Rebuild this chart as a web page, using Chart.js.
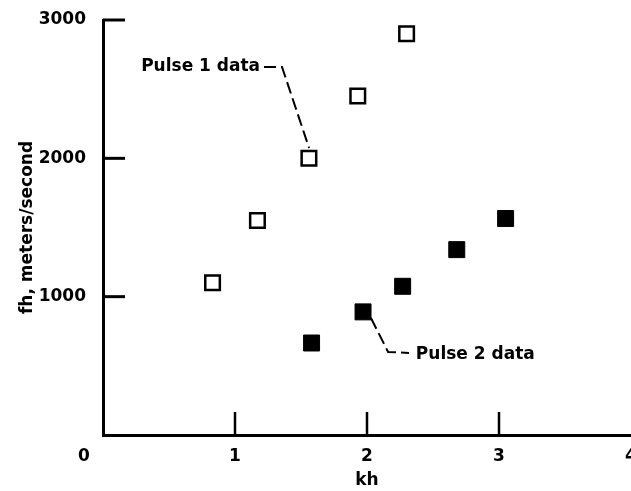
<!DOCTYPE html>
<html>
<head>
<meta charset="utf-8">
<script src="https://cdn.jsdelivr.net/npm/chart.js@4"></script>
<style>
  html, body { margin: 0; padding: 0; background: #fff; overflow: hidden; }
  #chart { display: block; }
</style>
</head>
<body>
<canvas id="chart" width="631" height="491"></canvas>
<script>
// ---- data ----
const pulse1Kh = [0.83, 1.17, 1.56, 1.93, 2.30];
const pulse1Fh = [1100, 1550, 2000, 2450, 2900];

const pulse2Kh = [1.58, 1.97, 2.27, 2.68, 3.05];
const pulse2Fh = [665, 890, 1075, 1340, 1565];

const xTicks = [1, 2, 3];
const yTicks = [1000, 2000, 3000];

// callout labels, anchored in data units
const pulse1Label = { text: 'Pulse 1 data', x: 1.19, y: 2665 };
const pulse1Leader = [[1.22, 2661], [1.356, 2661], [1.523, 2184], [1.561, 2075]];
const pulse2Label = { text: 'Pulse 2 data', x: 2.37, y: 580 };
const pulse2Leader = [[2.03, 846], [2.16, 600], [2.318, 593]];

Chart.defaults.font.family = '"DejaVu Sans", sans-serif';
Chart.defaults.font.weight = 'bold';
Chart.defaults.font.size = 17;
Chart.defaults.color = '#000';

const toPoints = (xs, ys) => xs.map((x, i) => ({ x: x, y: ys[i] }));

// inward tick marks, origin "0" and callouts
const extras = {
    id: 'extras',
    afterDraw(chart) {
        const ctx = chart.ctx;
        const xs = chart.scales.x, ys = chart.scales.y;
        const area = chart.chartArea;
        ctx.save();
        ctx.strokeStyle = '#000';
        ctx.lineCap = 'butt';

        ctx.lineWidth = 3;
        yTicks.forEach(v => {
            const py = ys.getPixelForValue(v);
            ctx.beginPath();
            ctx.moveTo(area.left, py);
            ctx.lineTo(area.left + 22, py);
            ctx.stroke();
        });
        ctx.lineWidth = 2.5;
        xTicks.forEach(v => {
            const px = xs.getPixelForValue(v);
            ctx.beginPath();
            ctx.moveTo(px, area.bottom);
            ctx.lineTo(px, area.bottom - 23);
            ctx.stroke();
        });

        ctx.fillStyle = '#000';
        ctx.font = 'bold 17px "DejaVu Sans", sans-serif';
        ctx.textBaseline = 'middle';
        ctx.textAlign = 'center';
        ctx.fillText('0', xs.getPixelForValue(0) - 19, area.bottom + 22);

        // callouts
        const leader = pts => {
            ctx.beginPath();
            pts.forEach((p, i) => {
                const px = xs.getPixelForValue(p[0]), py = ys.getPixelForValue(p[1]);
                if (i === 0) ctx.moveTo(px, py); else ctx.lineTo(px, py);
            });
            ctx.stroke();
        };
        ctx.lineWidth = 2;
        ctx.setLineDash([12, 5]);
        leader(pulse1Leader);
        leader(pulse2Leader);
        ctx.setLineDash([]);

        ctx.textAlign = 'right';
        ctx.fillText(pulse1Label.text, xs.getPixelForValue(pulse1Label.x), ys.getPixelForValue(pulse1Label.y));
        ctx.textAlign = 'left';
        ctx.fillText(pulse2Label.text, xs.getPixelForValue(pulse2Label.x), ys.getPixelForValue(pulse2Label.y));
        ctx.restore();
    }
};

new Chart(document.getElementById('chart'), {
    type: 'scatter',
    data: {
        datasets: [
            {
                label: 'Pulse 1 data',
                data: toPoints(pulse1Kh, pulse1Fh),
                pointStyle: 'rect',
                pointRadius: 10.3,
                backgroundColor: '#fff',
                borderColor: '#000',
                borderWidth: 2.5
            },
            {
                label: 'Pulse 2 data',
                data: toPoints(pulse2Kh, pulse2Fh),
                pointStyle: 'rect',
                pointRadius: 11.3,
                backgroundColor: '#000',
                borderColor: '#000',
                borderWidth: 1
            }
        ]
    },
    options: {
        responsive: false,
        animation: false,
        devicePixelRatio: 1,
        layout: { autoPadding: false, padding: { top: 20, right: 0, bottom: 0, left: 0 } },
        plugins: { legend: { display: false }, tooltip: { enabled: false } },
        scales: {
            x: {
                type: 'linear',
                min: 0,
                max: 4,
                afterFit(s) { s.height = 56; s.paddingLeft = 0; s.paddingRight = 0; },
                ticks: {
                    stepSize: 1,
                    padding: 11,
                    maxRotation: 0,
                    callback: v => (v === 0 ? '' : v)
                },
                grid: { display: false, drawTicks: false },
                border: { display: true, color: '#000', width: 3 },
                title: { display: true, text: 'kh', padding: { top: 0, bottom: 0 } }
            },
            y: {
                type: 'linear',
                min: 0,
                max: 3000,
                afterFit(s) { s.width = 103; s.paddingTop = 0; s.paddingBottom = 0; },
                ticks: {
                    stepSize: 1000,
                    padding: 17,
                    callback: v => (v === 0 ? '' : v)
                },
                grid: { display: false, drawTicks: false },
                border: { display: true, color: '#000', width: 3 },
                title: { display: true, text: 'fh, meters/second', padding: { top: 17, bottom: 0 } }
            }
        }
    },
    plugins: [extras]
});
</script>
</body>
</html>
